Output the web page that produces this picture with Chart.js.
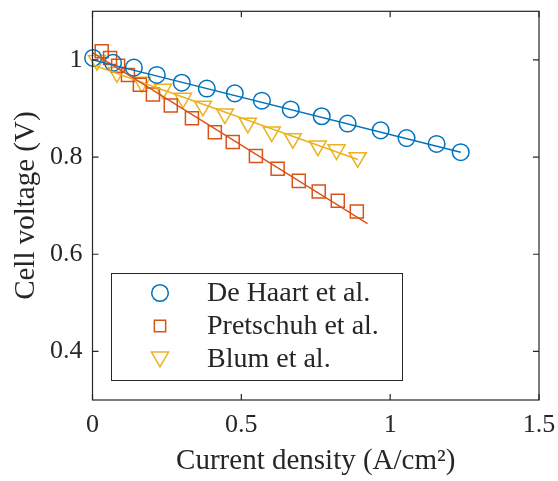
<!DOCTYPE html>
<html><head><meta charset="utf-8">
<script src="https://cdn.jsdelivr.net/npm/chart.js@4/dist/chart.umd.min.js"></script>
<style>html,body{margin:0;padding:0;background:#fff}#wrap{width:558px;height:481px}</style>
</head><body><div id="wrap"><canvas id="c" width="558" height="481"></canvas></div>
<script>
// ---- data ----
const seriesNames = ['De Haart et al.', 'Pretschuh et al.', 'Blum et al.'];
const haartX = [0.002,0.069,0.139,0.216,0.300,0.384,0.478,0.569,0.666,0.770,0.857,0.968,1.055,1.156,1.237];
const haartY = [1.004,0.994,0.984,0.969,0.953,0.941,0.931,0.916,0.898,0.884,0.869,0.855,0.839,0.827,0.810];
const pretX  = [0.031,0.059,0.086,0.119,0.159,0.203,0.263,0.334,0.411,0.471,0.549,0.622,0.693,0.760,0.824,0.888];
const pretY  = [1.018,1.004,0.988,0.969,0.949,0.929,0.906,0.880,0.851,0.831,0.802,0.776,0.751,0.729,0.710,0.688];
const blumX  = [0.015,0.082,0.166,0.237,0.304,0.371,0.445,0.522,0.602,0.673,0.757,0.820,0.891];
const blumY  = [0.999,0.974,0.954,0.940,0.921,0.905,0.889,0.870,0.852,0.838,0.823,0.815,0.799];
// linear fit lines (end points)
const haartFitX = [0, 1.237], haartFitY = [1.000, 0.810];
const pretFitX  = [0, 0.924], pretFitY  = [1.015, 0.663];
const blumFitX  = [0, 0.891], blumFitY  = [0.990, 0.795];
// ticks
const xTicks = [0, 0.5, 1, 1.5];
const xTickLabels = ['0', '0.5', '1', '1.5'];
const yTicks = [0.4, 0.6, 0.8, 1.0];
const yTickLabels = ['0.4', '0.6', '0.8', '1'];
const xTitle = 'Current density (A/cm\u00B2)';
const yTitle = 'Cell voltage (V)';

const colors = ['#0072BD', '#D95319', '#EDB120'];
const FONT = '"Liberation Serif", "Times New Roman", serif';
const AX = '#262626';

const pts = (xs, ys) => xs.map((x, i) => ({x, y: ys[i]}));

const markerStyles = [
  {pointStyle: 'circle', radius: 8.3, rotation: 0},
  {pointStyle: 'rect', radius: 9.2, rotation: 0},
  {pointStyle: 'triangle', radius: 9.8, rotation: 180}
];

function fitDs(xs, ys, c) {
  return {data: pts(xs, ys), showLine: true, borderColor: c, borderWidth: 1.4,
          pointRadius: 0, pointHoverRadius: 0, fill: false, clip: false};
}
function markDs(label, xs, ys, c, m) {
  return {label, data: pts(xs, ys), showLine: false, borderColor: c, backgroundColor: 'rgba(0,0,0,0)',
          pointStyle: m.pointStyle, pointRadius: m.radius, pointRotation: m.rotation,
          pointBorderWidth: 1.5, pointHoverRadius: m.radius, clip: false};
}

const boxPlugin = {
  id: 'box',
  afterDraw(chart) {
    const {ctx, chartArea: a, scales} = chart;
    ctx.save();
    ctx.strokeStyle = AX; ctx.lineWidth = 1.2;
    ctx.strokeRect(a.left, a.top, a.right - a.left, a.bottom - a.top);
    const L = 6;
    ctx.beginPath();
    xTicks.forEach(v => {
      const px = scales.x.getPixelForValue(v);
      ctx.moveTo(px, a.bottom); ctx.lineTo(px, a.bottom - L);
      ctx.moveTo(px, a.top); ctx.lineTo(px, a.top + L);
    });
    yTicks.forEach(v => {
      const py = scales.y.getPixelForValue(v);
      ctx.moveTo(a.left, py); ctx.lineTo(a.left + L, py);
      ctx.moveTo(a.right, py); ctx.lineTo(a.right - L, py);
    });
    ctx.stroke();
    // legend
    const bx = 111, by = 273, bw = 291, bh = 107;
    ctx.fillStyle = '#fff';
    ctx.fillRect(bx, by, bw, bh);
    ctx.lineWidth = 1;
    ctx.strokeRect(bx + 0.5, by + 0.5, bw, bh);
    const rows = [293, 326, 359];
    ctx.font = '28px ' + FONT;
    ctx.textBaseline = 'middle';
    seriesNames.forEach((name, i) => {
      const m = markerStyles[i];
      ctx.strokeStyle = colors[i];
      ctx.fillStyle = 'rgba(0,0,0,0)';
      ctx.lineWidth = 1.5;
      const r = i === 1 ? 8 : m.radius;
      Chart.helpers.drawPoint(ctx, {pointStyle: m.pointStyle, radius: r, rotation: m.rotation, borderWidth: 1.5}, 160, rows[i] + (i === 2 ? -2 : 0));
      ctx.fillStyle = AX;
      ctx.fillText(name, 207, rows[i] + 1);
    });
    ctx.restore();
  }
};

new Chart(document.getElementById('c'), {
  type: 'scatter',
  data: {datasets: [
    fitDs(haartFitX, haartFitY, colors[0]),
    fitDs(pretFitX, pretFitY, colors[1]),
    fitDs(blumFitX, blumFitY, colors[2]),
    markDs(seriesNames[0], haartX, haartY, colors[0], markerStyles[0]),
    markDs(seriesNames[1], pretX, pretY, colors[1], markerStyles[1]),
    markDs(seriesNames[2], blumX, blumY, colors[2], markerStyles[2])
  ]},
  options: {
    responsive: false, animation: false, devicePixelRatio: 1,
    layout: {padding: {left: 0, right: 19, top: 8, bottom: 0}},
    plugins: {legend: {display: false}, tooltip: {enabled: false}},
    scales: {
      x: {type: 'linear', min: 0, max: 1.5,
        afterBuildTicks: s => { s.ticks = xTicks.map(v => ({value: v})); },
        afterFit: s => { s.height = 81; s.paddingLeft = 0; s.paddingRight = 0; },
        grid: {display: false, drawTicks: false},
        border: {display: false},
        ticks: {color: AX, font: {family: FONT, size: 26}, padding: 10,
                callback: (v, i) => xTickLabels[i], maxRotation: 0},
        title: {display: true, text: xTitle, color: AX, font: {family: FONT, size: 29},
                padding: {top: 0, bottom: 2}}
      },
      y: {type: 'linear', min: 0.3, max: 1.1,
        afterBuildTicks: s => { s.ticks = yTicks.map(v => ({value: v})); },
        afterFit: s => { s.width = 92.5; s.paddingTop = 0; s.paddingBottom = 0; },
        grid: {display: false, drawTicks: false},
        border: {display: false},
        ticks: {color: AX, font: {family: FONT, size: 26}, padding: 10,
                callback: (v, i) => yTickLabels[i]},
        title: {display: true, text: yTitle, color: AX, font: {family: FONT, size: 29},
                padding: {top: 9, bottom: 0}}
      }
    }
  },
  plugins: [boxPlugin]
});
</script></body></html>
